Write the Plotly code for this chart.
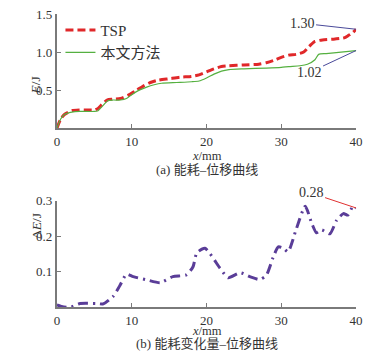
import plotly.graph_objects as go

# ---- data ----
x_tsp = [0, 0.5, 1, 2, 3, 4, 5, 5.5, 6, 6.7, 7.5, 8.5, 9.5, 10.5, 11.5, 12.5, 13.5, 15, 16.5, 18, 19,
         20, 21, 22, 23, 25, 27, 28, 29, 30, 31, 32, 33, 33.5, 34, 34.5, 35.5, 37, 38, 38.5, 39, 39.5, 40]
e_tsp = [0, 0.12, 0.18, 0.23, 0.24, 0.24, 0.24, 0.26, 0.31, 0.37, 0.38, 0.39, 0.43, 0.49, 0.55, 0.60, 0.63,
         0.65, 0.67, 0.68, 0.70, 0.74, 0.78, 0.81, 0.82, 0.83, 0.84, 0.86, 0.89, 0.93, 0.96, 0.97, 1.00,
         1.05, 1.10, 1.14, 1.16, 1.17, 1.18, 1.19, 1.22, 1.25, 1.30]

x_ours = [0, 0.5, 1, 2, 3, 5, 5.5, 6, 6.8, 7.5, 8.5, 9.3, 10, 11, 12, 13, 14, 16, 18, 19, 20, 21, 22,
          23, 25, 28, 30, 31, 32.5, 33.5, 34.5, 35, 36, 38, 40]
e_ours = [0, 0.12, 0.18, 0.21, 0.22, 0.22, 0.23, 0.28, 0.36, 0.37, 0.37, 0.39, 0.44, 0.50, 0.54, 0.57,
          0.59, 0.60, 0.61, 0.62, 0.66, 0.71, 0.75, 0.77, 0.78, 0.79, 0.80, 0.81, 0.82, 0.84, 0.90,
          0.97, 0.98, 1.00, 1.02]

x_d = [0, 0.9, 1.8, 3.1, 5.3, 6.2, 7.5, 8.4, 9.3, 10.2, 12, 13.8, 15.5, 17.3, 18.2, 18.7, 19.8, 21.8,
       22.9, 24.5, 25.8, 27.1, 28, 28.9, 29.6, 30.3, 30.9, 32, 33.2, 34.1, 34.7, 35.4, 36.5, 37.4,
       38.3, 38.9, 39.6, 40]
de = [0.006, 0.0, 0.0, 0.01, 0.01, 0.009, 0.03, 0.06, 0.093, 0.086, 0.077, 0.069, 0.086, 0.091, 0.114,
      0.153, 0.166, 0.11, 0.083, 0.097, 0.086, 0.078, 0.09, 0.14, 0.17, 0.166, 0.156, 0.22, 0.285,
      0.235, 0.21, 0.218, 0.207, 0.245, 0.264, 0.26, 0.285, 0.28]

x_ticks = [0, 10, 20, 30, 40]
y1_ticks = [0.5, 1.0, 1.5]
y1_text = ["0.5", "1.0", "1.5"]
y2_ticks = [0.1, 0.2, 0.3]
y2_text = ["0.1", "0.2", "0.3"]

SERIF = "'Liberation Serif', 'Times New Roman', serif"
CJK = "'Liberation Serif', 'Noto Sans CJK SC', serif"
AX = "#7a7a7a"
TXT = "#333333"

fig = go.Figure()
fig.add_trace(go.Scatter(x=x_tsp, y=e_tsp, mode="lines", name="TSP",
                         line=dict(color="#e0282a", width=3, dash="8px,4px", shape="spline", smoothing=0.6),
                         xaxis="x", yaxis="y"))
fig.add_trace(go.Scatter(x=x_ours, y=e_ours, mode="lines", name="本文方法",
                         line=dict(color="#55b040", width=1.2, shape="spline", smoothing=0.6),
                         xaxis="x", yaxis="y"))
fig.add_trace(go.Scatter(x=x_d, y=de, mode="lines", showlegend=False,
                         line=dict(color="#5a3d98", width=3, dash="10px,5px,2px,5px", shape="spline", smoothing=0.6),
                         xaxis="x2", yaxis="y2"))

axis_common = dict(showline=True, linecolor=AX, linewidth=2, ticks="inside", ticklen=4, tickcolor=AX,
                   tickwidth=1, showgrid=False, zeroline=False, automargin=False,
                   tickfont=dict(family=SERIF, size=13, color=TXT))

fig.update_layout(
    width=390, height=360,
    margin=dict(l=0, r=0, t=0, b=0, autoexpand=False),
    paper_bgcolor="white", plot_bgcolor="white",
    xaxis=dict(domain=[0.146, 0.913], range=[0, 40], tickvals=x_ticks, anchor="y", **axis_common),
    yaxis=dict(domain=[0.644, 0.961], range=[0, 1.5], tickvals=y1_ticks, ticktext=y1_text, anchor="x",
               **axis_common),
    xaxis2=dict(domain=[0.146, 0.913], range=[0, 40], tickvals=x_ticks, anchor="y2", **axis_common),
    yaxis2=dict(domain=[0.147, 0.442], range=[0, 0.3], tickvals=y2_ticks, ticktext=y2_text, anchor="x2",
                **axis_common),
    legend=dict(x=0.155, y=0.962, xanchor="left", yanchor="top", bgcolor="rgba(0,0,0,0)",
                font=dict(family=CJK, size=15, color=TXT), itemwidth=30, tracegroupgap=2),
    showlegend=True,
)

ann = [
    dict(text="<i>E</i>/J", x=0.07, y=0.79, textangle=-90, size=13.5),
    dict(text="<i>x</i>/mm", x=0.53, y=0.567, size=12.5),
    dict(text="(a) 能耗–位移曲线", x=0.53, y=0.529, size=13),
    dict(text="Δ<i>E</i>/J", x=0.07, y=0.333, textangle=-90, size=13.5),
    dict(text="<i>x</i>/mm", x=0.53, y=0.059, size=12.5),
    dict(text="(b) 能耗变化量–位移曲线", x=0.53, y=0.022, size=13),
]
for a in ann:
    sz = a.pop("size")
    fig.add_annotation(xref="paper", yref="paper", showarrow=False, borderpad=0,
                       font=dict(family=CJK, size=sz, color=TXT), **a)

fig.add_annotation(x=40, y=e_tsp[-1], xref="x", yref="y", text="%.2f" % e_tsp[-1], showarrow=True,
                   arrowhead=0, arrowwidth=1, arrowcolor="#4a4a9a", ax=-54, ay=-6,
                   font=dict(family=SERIF, size=14, color=TXT))
fig.add_annotation(x=40, y=e_ours[-1], xref="x", yref="y", text="%.2f" % e_ours[-1], showarrow=True,
                   arrowhead=0, arrowwidth=1, arrowcolor="#4a4a9a", ax=-47, ay=22,
                   font=dict(family=SERIF, size=14, color=TXT))
fig.add_annotation(x=40, y=de[-1], xref="x2", yref="y2", text="%.2f" % de[-1], showarrow=True,
                   arrowhead=0, arrowwidth=1, arrowcolor="#e03030", ax=-45, ay=-15,
                   font=dict(family=SERIF, size=14, color=TXT))

fig.write_html("out.html", config={"displayModeBar": False},
               post_script="document.body.style.margin='0';document.body.style.padding='0';"
                           "document.documentElement.style.overflow='hidden';")
